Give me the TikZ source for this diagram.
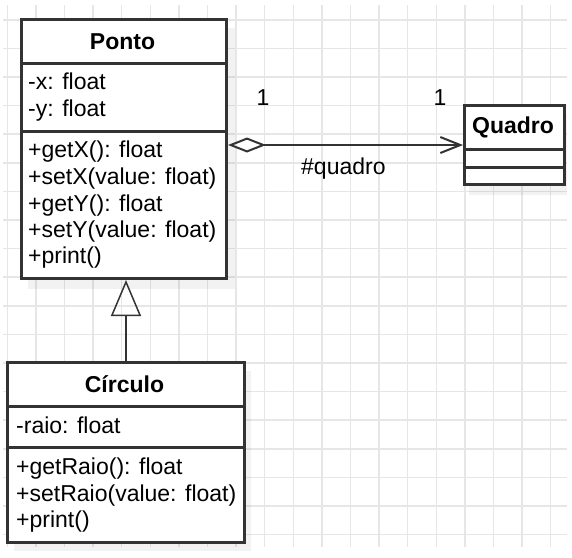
\documentclass[tikz,border=0pt]{standalone}
\usepackage{fontspec}
\setmainfont{Liberation Sans}
\usetikzlibrary{arrows.meta}
\definecolor{gridc}{HTML}{E6E6E6}
\definecolor{boxc}{HTML}{333333}
\begin{document}
\begin{tikzpicture}[x=1pt,y=-1pt,
  umlbox/.style={draw=boxc, line width=3pt, fill=white, rectangle, inner sep=0pt, anchor=north west},
  txt/.style={anchor=base west, inner sep=0pt, font=\fontsize{23}{26}\selectfont},
  lbl/.style={anchor=base, inner sep=0pt, font=\fontsize{23}{26}\selectfont},
  ttl/.style={anchor=base, inner sep=0pt, font=\fontsize{23}{26}\selectfont\bfseries},
  sep/.style={draw=boxc, line width=3pt},
  shadowbox/.style={fill=black, opacity=0.05}]
\useasboundingbox (0,0) rectangle (572,557);
\fill[white] (0,0) rectangle (572,557);
% grid
\foreach \k in {0,...,19} \draw[gridc, line width=1.5pt] ({7.3+28.6*\k},5) -- ({7.3+28.6*\k},547);
\foreach \k in {0,...,18} \draw[gridc, line width=1.5pt] (3,{19.8+28.6*\k}) -- (567,{19.8+28.6*\k});
% shadows
\fill[shadowbox] (28,28) rectangle (235,289);
\fill[shadowbox] (14,371) rectangle (251,551);
\fill[shadowbox] (469,114) rectangle (567,195);
% Ponto
\node[umlbox, minimum width=205pt, minimum height=259pt] (ponto) at (20,18) {};
\draw[sep] (ponto.west |- 0,63) -- (ponto.east |- 0,63);
\draw[sep] (ponto.west |- 0,131) -- (ponto.east |- 0,131);
\node[ttl] (pontoT) at (122.5,49) {Ponto};
\node[txt] (px) at (28,89) {-x: float};
\node[txt] (py) at (28,116) {-y: float};
\node[txt] (pm1) at (28,157) {+getX(): float};
\node[txt] (pm2) at (28,184) {+setX(value: float)};
\node[txt] (pm3) at (28,211) {+getY(): float};
\node[txt] (pm4) at (28,237) {+setY(value: float)};
\node[txt] (pm5) at (28,263) {+print()};
% Quadro
\node[umlbox, minimum width=100pt, minimum height=79pt] (quadro) at (463,104) {};
\draw[sep] (quadro.west |- 0,149) -- (quadro.east |- 0,149);
\draw[sep] (quadro.west |- 0,167) -- (quadro.east |- 0,167);
\node[ttl] (quadroT) at (513,133) {Quadro};
% Circulo
\node[umlbox, minimum width=237pt, minimum height=180pt] (circulo) at (6,361) {};
\draw[sep] (circulo.west |- 0,406) -- (circulo.east |- 0,406);
\draw[sep] (circulo.west |- 0,447) -- (circulo.east |- 0,447);
\node[ttl] (circuloT) at (124.5,392) {Círculo};
\node[txt] (cr) at (16,433) {-raio: float};
\node[txt] (cm1) at (16,474) {+getRaio(): float};
\node[txt] (cm2) at (16,501) {+setRaio(value: float)};
\node[txt] (cm3) at (16,527) {+print()};
% association
\coordinate (assocA) at (ponto.east |- 0,145);
\coordinate (assocB) at (quadro.west |- 0,145);
\draw[line width=2pt, draw=boxc, {Diamond[open,length=38pt,width=15pt]}-{Straight Barb[length=20pt,width=16pt]}] (assocA) -- (assocB);
\node[lbl] (m1) at (263,105) {1};
\node[lbl] (m2) at (440,105) {1};
\node[txt] (role) at (301,174) {\#quadro};
% inheritance
\draw[line width=1.5pt, draw=boxc, -{Triangle[open,length=36pt,width=30pt]}] (circulo.north) -- (circulo.north |- ponto.south);
\end{tikzpicture}
\end{document}
